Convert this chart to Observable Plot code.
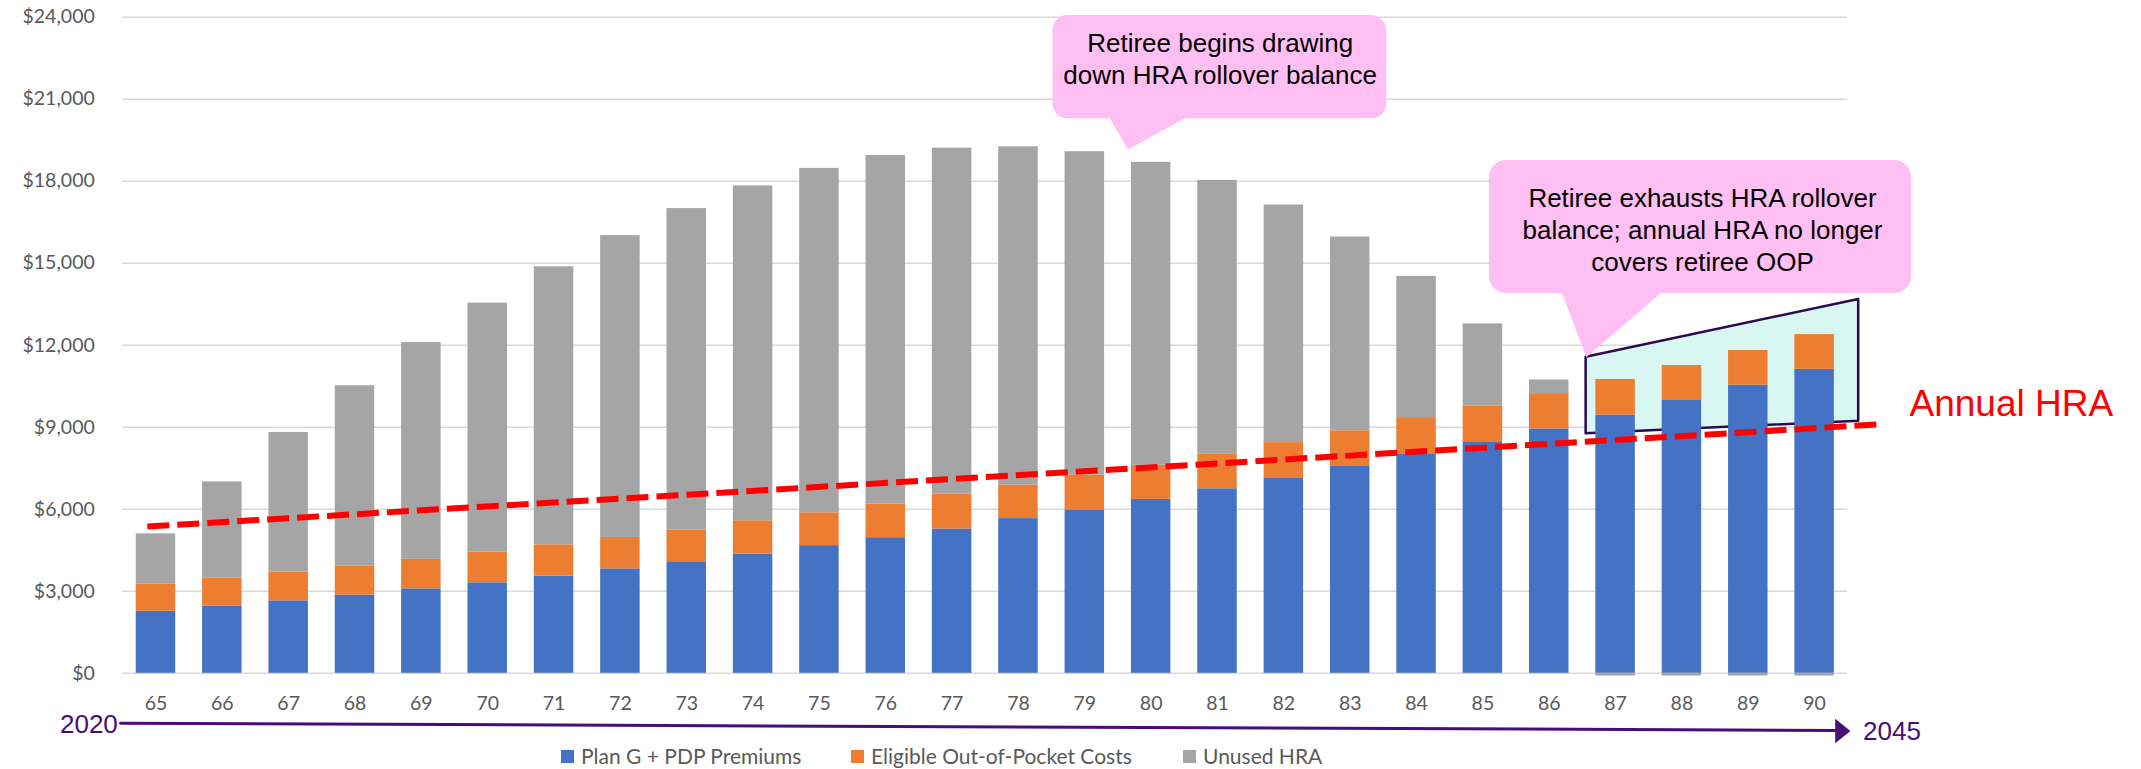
<!DOCTYPE html>
<html><head><meta charset="utf-8">
<script src="https://cdn.jsdelivr.net/npm/d3@7"></script>
<script src="https://cdn.jsdelivr.net/npm/@observablehq/plot@0.6"></script>
<style>
html,body{margin:0;padding:0;background:#fff;}
svg{display:block;}
#legend{position:relative;height:24px;font-family:Lato,sans-serif;font-size:21px;color:#595959;}
.sw{position:absolute;top:5px;width:13px;height:13px;}
.lt{position:absolute;top:0;line-height:22px;white-space:nowrap;}
</style></head><body>
<script>
// ---- data ----
const ages = [65,66,67,68,69,70,71,72,73,74,75,76,77,78,79,80,81,82,83,84,85,86,87,88,89,90];
const seriesNames = ["Plan G + PDP Premiums", "Eligible Out-of-Pocket Costs", "Unused HRA"];
const seriesColors = ["#4472C4", "#ED7D31", "#A5A5A5"];
const premiums = [2270,2460,2650,2860,3090,3310,3550,3820,4080,4360,4670,4960,5280,5660,5980,6360,6750,7150,7590,8030,8470,8940,9440,9980,10540,11120];
const oopCosts = [1000,1030,1060,1070,1080,1120,1150,1150,1160,1220,1200,1230,1270,1230,1270,1250,1280,1290,1280,1290,1300,1290,1310,1280,1270,1270];
const unusedHra = [1830,3510,5100,6590,7930,9110,10170,11040,11760,12250,12600,12750,12660,12370,11830,11080,10000,8690,7090,5200,3010,500,-100,-100,-100,-100];
const yTicks = [0,3000,6000,9000,12000,15000,18000,21000,24000];
// Annual HRA trend line (age, $)
const hraAge = [64.87, 90.94];
const hraValue = [5370, 9100];
// Annotations (age, $ units)
const callout1Text = "Retiree begins drawing\ndown HRA rollover balance";
const callout2Text = "Retiree exhausts HRA rollover\nbalance; annual HRA no longer\ncovers retiree OOP";
const callout1Box = {x1: 78.52, x2: 83.55, y1: 20283, y2: 24061};
const callout1Ptr = [[79.34, 20450], [79.65, 19160], [80.62, 20450]];
const callout1Anchor = {x: 81.04, y: 21564};
const callout2Box = {x1: 85.10, x2: 91.46, y1: 13882, y2: 18758};
const callout2Ptr = [[86.17, 14050], [86.56, 11563], [87.75, 14050]];
const callout2Anchor = {x: 88.31, y: 14709};
const trapAge = [86.556, 90.664];
const trapLow = [8761, 9222];
const trapHigh = [11563, 13673];
const hraLabel = {x: 91.43, y: 9405, text: "Annual HRA"};
const timeShaft = [[64.467, -1825], [90.31, -2088]];
const timeHead = [[90.31, -1664], [90.54, -2111], [90.31, -2557]];
const timeStart = {x: 64.425, y: -1876, text: "2020"};
const timeEnd = {x: 90.73, y: -2129, text: "2045"};

// ---- build ----
const stackData = [];
ages.forEach((a, i) => {
  [premiums, oopCosts, unusedHra].forEach((arr, k) => {
    stackData.push({age: a, series: seriesNames[k], value: arr[i]});
  });
});
const hw = 0.2975;
const purple = "#4A0D78";
const pink = "#FFBFF2";
const calloutFont = "'Liberation Sans', Arial, sans-serif";

const chart = Plot.plot({
  width: 2141,
  height: 745,
  marginTop: 16.7,
  marginBottom: 72.2,
  marginLeft: 122.3,
  marginRight: 293.7,
  style: {fontFamily: "Lato, sans-serif", fontSize: "19.5px", color: "#595959", background: "#fff"},
  x: {domain: [64.5, 90.5]},
  y: {domain: [0, 24000]},
  color: {domain: seriesNames, range: seriesColors},
  marks: [
    Plot.gridY(yTicks, {stroke: "#D9D9D9", strokeOpacity: 1, strokeWidth: 1.5}),
    Plot.areaY(trapAge.map((a, i) => ({x: a, lo: trapLow[i], hi: trapHigh[i]})),
      {x: "x", y1: "lo", y2: "hi", fill: "#D8F7F2", stroke: "#2B0B4E", strokeWidth: 2.5}),
    Plot.rectY(stackData, {
      x1: d => d.age - hw, x2: d => d.age + hw, y: "value", fill: "series"
    }),
    Plot.line(hraAge.map((a, i) => ({x: a, y: hraValue[i]})),
      {x: "x", y: "y", stroke: "#FF0000", strokeWidth: 6, strokeDasharray: "22,8", strokeLinecap: "butt"}),
    Plot.rect([callout1Box], {x1: "x1", x2: "x2", y1: "y1", y2: "y2", fill: pink, rx: 15}),
    Plot.line(callout1Ptr, {x: d => d[0], y: d => d[1], fill: pink, stroke: "none"}),
    Plot.text([callout1Anchor], {x: "x", y: "y", text: () => callout1Text, fontSize: 26, fontFamily: calloutFont,
      fill: "#000", textAnchor: "middle", lineAnchor: "bottom", lineHeight: 1.215}),
    Plot.rect([callout2Box], {x1: "x1", x2: "x2", y1: "y1", y2: "y2", fill: pink, rx: 17}),
    Plot.line(callout2Ptr, {x: d => d[0], y: d => d[1], fill: pink, stroke: "none"}),
    Plot.text([callout2Anchor], {x: "x", y: "y", text: () => callout2Text, fontSize: 26, fontFamily: calloutFont,
      fill: "#000", textAnchor: "middle", lineAnchor: "bottom", lineHeight: 1.23}),
    Plot.text([hraLabel], {x: "x", y: "y", text: "text", fontSize: 37, fontFamily: calloutFont,
      fill: "#FF0000", textAnchor: "start", lineAnchor: "bottom"}),
    Plot.axisY(yTicks, {tickFormat: d => "$" + d3.format(",")(d), tickSize: 0, tickPadding: 28,
      fontSize: 19.5, fontFamily: "Lato, sans-serif", color: "#595959", label: null}),
    Plot.axisX(ages, {tickFormat: d => String(d), tickSize: 0, tickPadding: 23,
      fontSize: 19.5, fontFamily: "Lato, sans-serif", color: "#595959", label: null}),
    Plot.line(timeShaft, {x: d => d[0], y: d => d[1], stroke: purple, strokeWidth: 3}),
    Plot.line(timeHead, {x: d => d[0], y: d => d[1], fill: purple, stroke: "none"}),
    Plot.text([timeStart], {x: "x", y: "y", text: "text", fontSize: 26, fontFamily: calloutFont,
      fill: purple, textAnchor: "end", lineAnchor: "middle"}),
    Plot.text([timeEnd], {x: "x", y: "y", text: "text", fontSize: 26, fontFamily: calloutFont,
      fill: purple, textAnchor: "start", lineAnchor: "middle"})
  ]
});
document.body.appendChild(chart);

// legend below the chart, items placed where the reference puts them
const legendSwatchX = [561, 851, 1183];
const legend = document.createElement("div");
legend.id = "legend";
seriesNames.forEach((n, i) => {
  const sw = document.createElement("div");
  sw.className = "sw";
  sw.style.left = legendSwatchX[i] + "px";
  sw.style.background = seriesColors[i];
  const t = document.createElement("span");
  t.className = "lt";
  t.style.left = (legendSwatchX[i] + 20) + "px";
  t.textContent = n;
  legend.appendChild(sw); legend.appendChild(t);
});
document.body.appendChild(legend);
</script>
</body></html>
